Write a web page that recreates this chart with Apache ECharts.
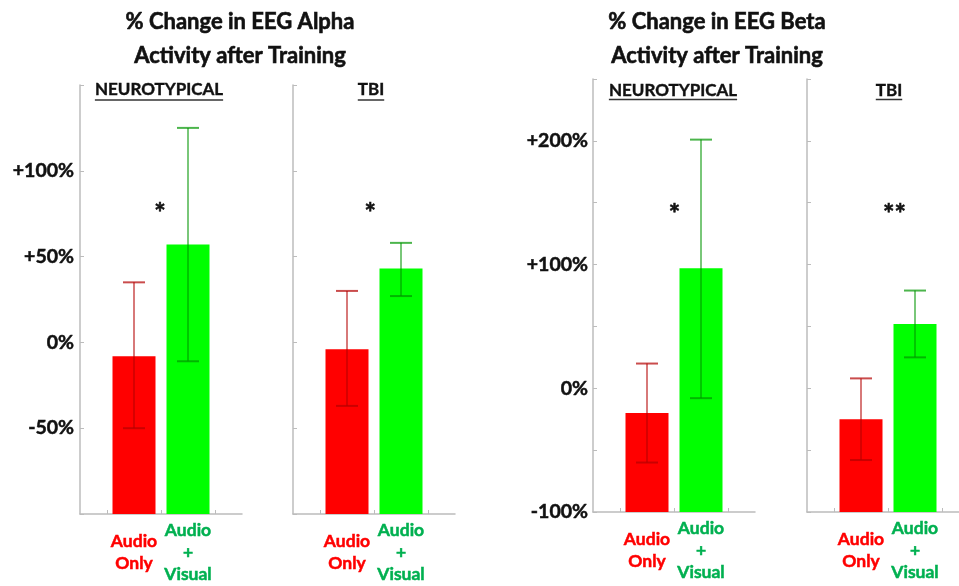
<!DOCTYPE html>
<html>
<head>
<meta charset="utf-8">
<script src="https://cdn.jsdelivr.net/npm/echarts@6/dist/echarts.min.js"></script>
<style>
html, body { margin: 0; padding: 0; background: #fff; }
#main { width: 959px; height: 586px; }
</style>
</head>
<body>
<div id="main"></div>
<script>
// conditions, bars sit at x = 1 and 2 on each panel
var conditions = ['Audio\nOnly', 'Audio\n+\nVisual'];
var conditionX = [1, 2];
var panelNames = ['NEUROTYPICAL', 'TBI', 'NEUROTYPICAL', 'TBI'];

// mean % change [audio only, audio + visual]
var alphaNT = [-8, 57];
var alphaTBI = [-4, 43];
var betaNT = [-20, 97];
var betaTBI = [-25, 52];

// error bars [low, high]
var alphaNTErr = [[-50, 35], [-11, 125]];
var alphaTBIErr = [[-37, 30], [27, 58]];
var betaNTErr = [[-60, 20], [-8, 201]];
var betaTBIErr = [[-58, 8], [25, 79]];

// significance marks [x, y, text]
var alphaNTStar = [[1.48, 75, '*']];
var alphaTBIStar = [[1.43, 75, '*']];
var betaNTStar = [[1.51, 141, '*']];
var betaTBIStar = [[1.62, 141, '**']];

// y tick labels
var alphaTicks = [-50, 0, 50, 100];
var betaTicks = [-100, 0, 100, 200];

var barColors = ['#ff0000', '#00ff00'];
var errColors = ['rgba(180,0,0,0.7)', 'rgba(0,150,0,0.7)'];
var axisGray = '#bcbcbc';
var font = 'Lato';

var mycharts = echarts.init(document.getElementById('main'));

function pct(v) {
  return (v > 0 ? '+' : '') + v + '%';
}

function labelText(v) {
  var i = conditionX.indexOf(v);
  if (i < 0) return '';
  var key = i === 0 ? 'r' : 'g';
  return conditions[i].split('\n').map(function (s) {
    return '{' + key + '|' + s + '}';
  }).join('\n');
}

function renderBar(params, api) {
  var cs = params.coordSys;
  var p = api.coord([api.value(0), api.value(1)]);
  var w = 43;
  var bottom = cs.y + cs.height;
  return {
    type: 'rect',
    shape: { x: p[0] - w / 2, y: p[1], width: w, height: bottom - p[1] },
    style: { fill: barColors[params.dataIndex] }
  };
}

function renderErr(params, api) {
  var x = api.value(0);
  var lo = api.coord([x, api.value(1)]);
  var hi = api.coord([x, api.value(2)]);
  var c = errColors[params.dataIndex];
  var cap = 11;
  return {
    type: 'group',
    children: [
      { type: 'line', shape: { x1: lo[0], y1: lo[1], x2: hi[0], y2: hi[1] }, style: { stroke: c, lineWidth: 1.5 } },
      { type: 'line', shape: { x1: lo[0] - cap, y1: lo[1], x2: lo[0] + cap, y2: lo[1] }, style: { stroke: c, lineWidth: 2 } },
      { type: 'line', shape: { x1: hi[0] - cap, y1: hi[1], x2: hi[0] + cap, y2: hi[1] }, style: { stroke: c, lineWidth: 2 } }
    ]
  };
}

function renderStar(params, api) {
  var p = api.coord([api.value(0), api.value(1)]);
  return {
    type: 'text',
    x: p[0],
    y: p[1],
    style: {
      text: stars[params.seriesIndex][params.dataIndex][2],
      fontSize: 27, fontWeight: 'bold', fontFamily: font, fill: '#111',
      stroke: '#111', lineWidth: 0.6,
      align: 'center', verticalAlign: 'middle'
    }
  };
}

var means = [alphaNT, alphaTBI, betaNT, betaTBI];
var errs = [alphaNTErr, alphaTBIErr, betaNTErr, betaTBIErr];
var starList = [alphaNTStar, alphaTBIStar, betaNTStar, betaTBIStar];
var stars = {};

var grids = [
  { left: 80, top: 85, width: 162, height: 429 },
  { left: 293, top: 85, width: 162, height: 429 },
  { left: 593, top: 79, width: 162, height: 433 },
  { left: 807, top: 79, width: 162, height: 433 }
];

var xAxes = [], yAxes = [], series = [];
for (var i = 0; i < 4; i++) {
  grids[i].outerBoundsMode = 'none';
  var isBeta = i >= 2;
  var showLabels = i === 0 || i === 2;
  xAxes.push({
    gridIndex: i, type: 'value', min: 0, max: 3,
    splitLine: { show: false },
    axisLine: { onZero: false, lineStyle: { color: axisGray, width: 1.5 } },
    axisTick: { show: true, inside: true, length: 4, customValues: [0.5, 1.5, 2.5], lineStyle: { color: axisGray } },
    axisLabel: {
      customValues: conditionX, formatter: labelText, margin: 38, verticalAlign: 'middle',
      rich: {
        r: { color: '#ff0000', fontSize: 17.5, fontWeight: 'bold', lineHeight: 22, fontFamily: font, textBorderColor: '#ff0000', textBorderWidth: 0.5 },
        g: { color: '#00b050', fontSize: 17.5, fontWeight: 'bold', lineHeight: 22, fontFamily: font, textBorderColor: '#00b050', textBorderWidth: 0.5 }
      }
    }
  });
  yAxes.push({
    gridIndex: i, type: 'value',
    min: -100, max: isBeta ? 250 : 150, interval: 50,
    splitLine: { show: false },
    axisLine: { show: true, onZero: false, lineStyle: { color: axisGray, width: 1.5 } },
    axisTick: { show: true, inside: true, length: 4, lineStyle: { color: axisGray } },
    axisLabel: {
      show: showLabels,
      customValues: isBeta ? betaTicks : alphaTicks,
      formatter: pct, margin: isBeta ? 5 : 6,
      color: '#111', fontSize: 19.5, fontWeight: 'bold', fontFamily: font,
      textBorderColor: '#111', textBorderWidth: 0.5
    }
  });
  series.push({
    type: 'custom', xAxisIndex: i, yAxisIndex: i, renderItem: renderBar,
    data: conditionX.map(function (x, k) { return [x, means[i][k]]; })
  });
  series.push({
    type: 'custom', xAxisIndex: i, yAxisIndex: i, renderItem: renderErr,
    data: conditionX.map(function (x, k) { return [x, errs[i][k][0], errs[i][k][1]]; })
  });
  stars[series.length] = starList[i];
  series.push({
    type: 'custom', xAxisIndex: i, yAxisIndex: i, renderItem: renderStar,
    data: starList[i].map(function (s) { return [s[0], s[1]]; })
  });
}

// panel headings (underlined) centred over each panel
var panelCx = [159, 371, 673, 889];
var canvas = document.createElement('canvas');
var ctx = canvas.getContext('2d');
ctx.font = 'bold 17px ' + font;
var underlines = panelNames.map(function (name, i) {
  var w = ctx.measureText(name).width;
  var y = i < 2 ? 100 : 99.5;
  return {
    type: 'line',
    shape: { x1: panelCx[i] - w / 2, y1: y, x2: panelCx[i] + w / 2, y2: y },
    style: { stroke: '#333', lineWidth: 1.5 }
  };
});

var titleStyle = { fontSize: 22, fontWeight: 'bold', lineHeight: 34, fontFamily: font, color: '#111', textBorderColor: '#111', textBorderWidth: 0.6 };
var panelStyle = { fontSize: 17, fontWeight: 'bold', lineHeight: 18, fontFamily: font, color: '#111', textBorderColor: '#111', textBorderWidth: 0.4 };

var titles = [
  { text: '% Change in EEG Alpha\nActivity after Training', left: 240, top: 5, textAlign: 'center', padding: 0, textStyle: titleStyle },
  { text: '% Change in EEG Beta\nActivity after Training', left: 717, top: 5, textAlign: 'center', padding: 0, textStyle: titleStyle }
];
panelNames.forEach(function (name, i) {
  titles.push({ text: name, left: panelCx[i], top: i < 2 ? 81 : 82, textAlign: 'center', padding: 0, textStyle: panelStyle });
});

var option = {
  animation: false,
  backgroundColor: '#fff',
  title: titles,
  grid: grids,
  xAxis: xAxes,
  yAxis: yAxes,
  series: series,
  graphic: underlines
};
mycharts.setOption(option);
</script>
</body>
</html>
